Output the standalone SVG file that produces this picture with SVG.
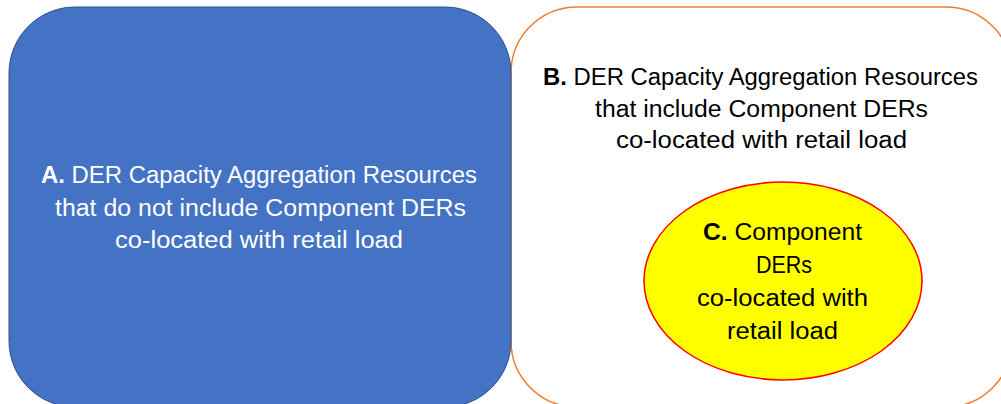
<svg xmlns="http://www.w3.org/2000/svg" width="1001" height="404" viewBox="0 0 1001 404">
  <style>
    .t { font-family: "Liberation Sans", Arial, sans-serif; font-size: 23px; text-anchor: middle; }
    .w { fill: #ffffff; }
    .k { fill: #000000; }
    .b { font-weight: bold; }
  </style>
  <rect width="1001" height="404" fill="#ffffff"/>
  <g id="nodeB">
    <rect x="511" y="7" width="501" height="400" rx="66" ry="66" fill="#ffffff" stroke="#ED7D31" stroke-width="1.5"/>
    <text class="t k" x="760.5" y="85" textLength="435" lengthAdjust="spacingAndGlyphs"><tspan class="b">B.</tspan> DER Capacity Aggregation Resources</text>
    <text class="t k" x="761.5" y="116.5" textLength="333" lengthAdjust="spacingAndGlyphs">that include Component DERs</text>
    <text class="t k" x="761.5" y="148" textLength="291" lengthAdjust="spacingAndGlyphs">co-located with retail load</text>
  </g>
  <g id="nodeA">
    <rect x="9" y="7" width="502" height="400" rx="66" ry="66" fill="#4472C4" stroke="#2F528F" stroke-width="1"/>
    <text class="t w" x="259" y="183.3" textLength="436" lengthAdjust="spacingAndGlyphs"><tspan class="b">A.</tspan> DER Capacity Aggregation Resources</text>
    <text class="t w" x="260.5" y="216" textLength="411" lengthAdjust="spacingAndGlyphs">that do not include Component DERs</text>
    <text class="t w" x="259" y="248.3" textLength="288" lengthAdjust="spacingAndGlyphs">co-located with retail load</text>
  </g>
  <g id="nodeC">
    <ellipse cx="783" cy="281" rx="139" ry="99" fill="#FFFF00" stroke="#FF0000" stroke-width="1.5"/>
    <text class="t k" x="782.5" y="240" textLength="159" lengthAdjust="spacingAndGlyphs"><tspan class="b">C.</tspan> Component</text>
    <text class="t k" x="784" y="272.7" textLength="56" lengthAdjust="spacingAndGlyphs">DERs</text>
    <text class="t k" x="782.5" y="306" textLength="171" lengthAdjust="spacingAndGlyphs">co-located with</text>
    <text class="t k" x="782.5" y="339.3" textLength="111" lengthAdjust="spacingAndGlyphs">retail load</text>
  </g>
  <g id="connectors"></g>
</svg>
